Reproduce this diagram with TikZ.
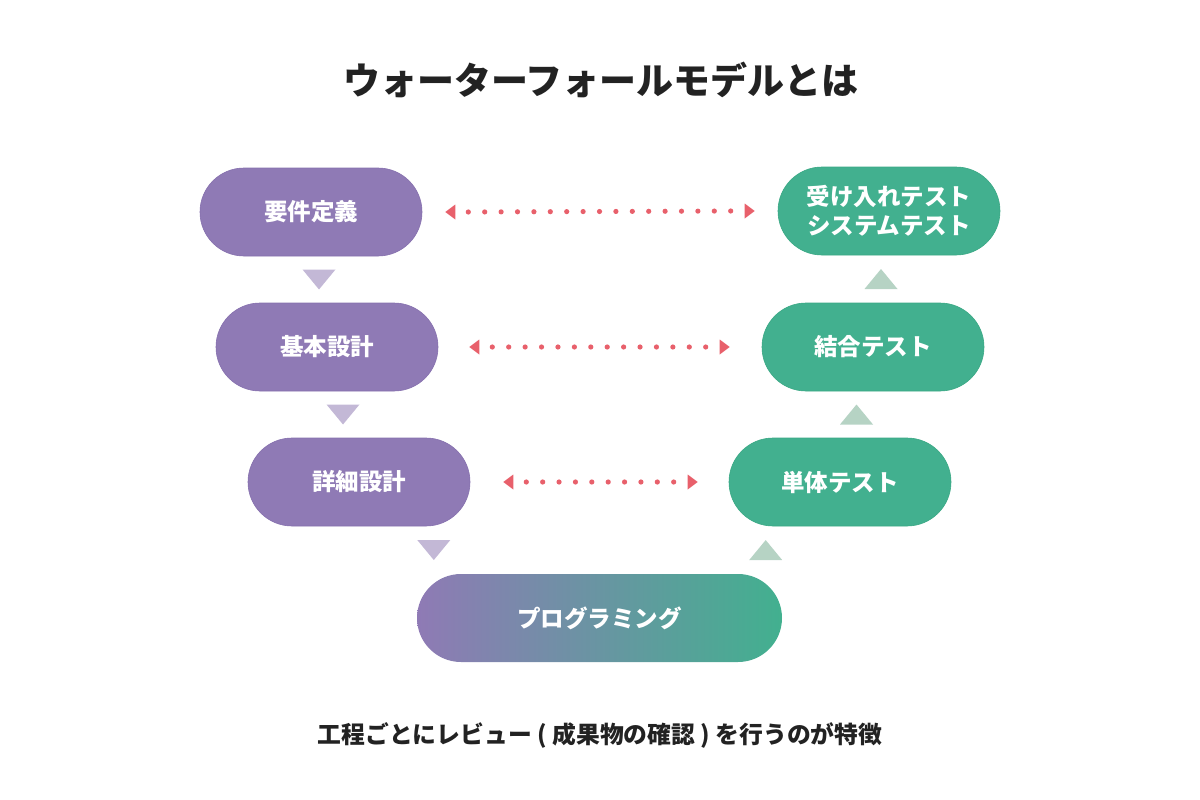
\documentclass[tikz,border=0pt]{standalone}
\usepackage{fontspec}
\setmainfont{Noto Sans CJK JP}
\usetikzlibrary{calc}
\definecolor{purp}{HTML}{8F7AB5}
\definecolor{purpline}{HTML}{8670AE}
\definecolor{grn}{HTML}{42B08F}
\definecolor{grnline}{HTML}{3AA884}
\definecolor{tripurp}{HTML}{C3B8D6}
\definecolor{trigrn}{HTML}{B6D3C4}
\definecolor{dotc}{HTML}{E8606B}
\definecolor{txt}{HTML}{222222}
\tikzset{
  stage/.style={rectangle, rounded corners=44pt, minimum width=222pt, minimum height=88pt,
    inner sep=0pt, text=white, font=\bfseries\fontsize{23.5}{29.5}\selectfont, align=center},
  pstage/.style={stage, fill=purp, draw=purpline, line width=0.6pt},
  gstage/.style={stage, fill=grn, draw=grnline, line width=0.6pt},
  downtri/.style={fill=tripurp},
  uptri/.style={fill=trigrn},
  reddot/.style={fill=dotc},
}
\begin{document}
\begin{tikzpicture}[x=1pt,y=-1pt]
\useasboundingbox (0,0) rectangle (1200,800);
\node[font=\bfseries\fontsize{37}{42}\selectfont, text=txt] (title) at (601,80) {ウォーターフォールモデルとは};

\node[pstage] (L1) at (311,212) {要件定義};
\node[pstage] (L2) at (327,347) {基本設計};
\node[pstage] (L3) at (359,482) {詳細設計};
\node[gstage] (R1) at (889,211) {受け入れテスト\\システムテスト};
\node[gstage] (R2) at (873,347) {結合テスト};
\node[gstage] (R3) at (840,482) {単体テスト};
\node[stage, minimum width=365pt, left color=purp, right color=grn, draw=none] (P) at (599.5,618) {プログラミング};

% flow triangles
\coordinate (d1) at ($(L1.south)!0.5!(L2.north)$);
\coordinate (d2) at ($(L2.south)!0.5!(L3.north)$);
\coordinate (d3) at ([xshift=17pt]$(L3.south -| P.west)!0.5!(P.north -| P.west)$);
\coordinate (u1) at ($(R1.south)!0.5!(R2.north)$);
\coordinate (u2) at ($(R2.south)!0.5!(R3.north)$);
\coordinate (u3) at ([xshift=-16.5pt]$(R3.south -| P.east)!0.5!(P.north -| P.east)$);
\foreach \c in {d1,d2,d3}
  \fill[downtri,shift={(\c)}] (-16.5,-10) -- (16.5,-10) -- (0,10) -- cycle;
\foreach \c in {u1,u2,u3}
  \fill[uptri,shift={(\c)}] (-16.5,10) -- (16.5,10) -- (0,-10) -- cycle;

% dotted review links
\foreach \l/\r/\ga/\gb/\n in {L1/R1/23/23/16, L2/R2/31/32/13, L3/R3/33/31/9} {
  \coordinate (ta) at ([xshift=\ga pt]\l.east);
  \coordinate (tb) at ([xshift=-\gb pt]\r.west);
  \coordinate (da) at ([xshift=23pt]ta);
  \coordinate (db) at ([xshift=-24pt]tb);
  \fill[reddot] (ta) -- ++(10,-7.5) -- ++(0,15) -- cycle;
  \fill[reddot] (tb) -- ++(-10,-7.5) -- ++(0,15) -- cycle;
  \foreach \i in {0,...,\n}
    \fill[reddot] ($(da)!{\i/\n}!(db)$) circle[radius=2.6];
}

\node[font=\bfseries\fontsize{23.8}{28}\selectfont, text=txt] (note) at (600,735) {工程ごとにレビュー ( 成果物の確認 ) を行うのが特徴};
\end{tikzpicture}
\end{document}
